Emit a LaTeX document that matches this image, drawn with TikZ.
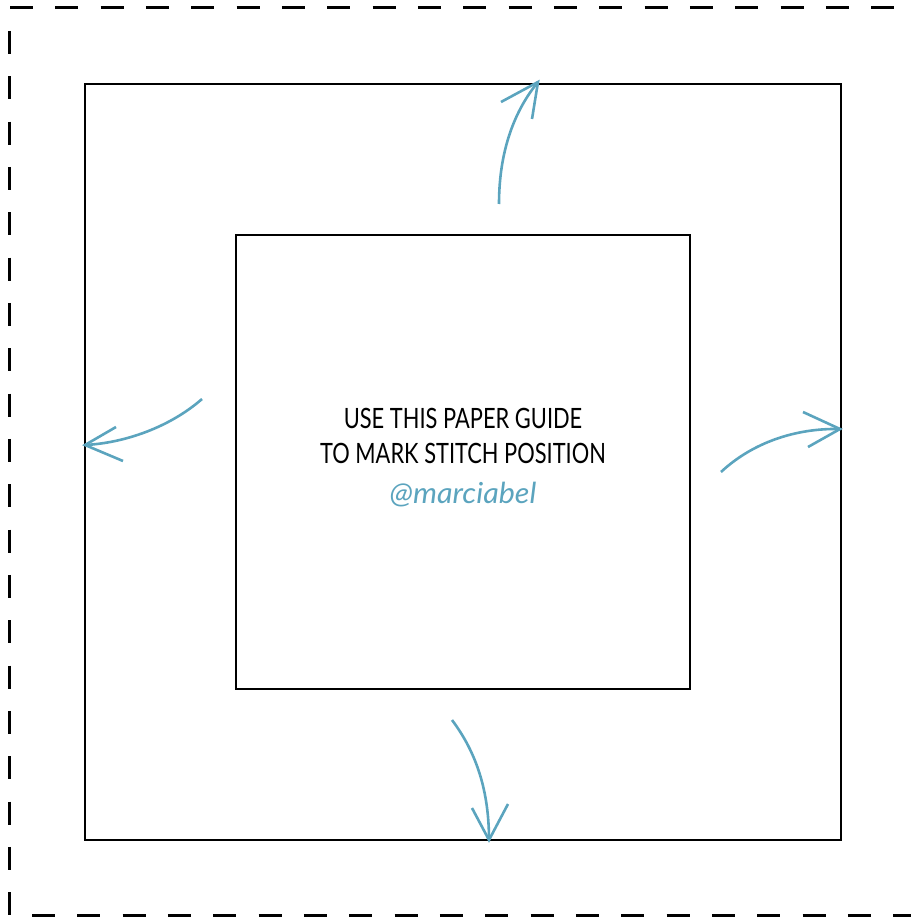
\documentclass[tikz,border=0pt]{standalone}
\usepackage{fontspec}
\setmainfont{Lato}[FakeStretch=0.78]
\newfontfamily\handfont{Lato}[FakeStretch=1.05]
\definecolor{teal1}{RGB}{91,164,190}
\begin{document}
\begin{tikzpicture}[x=1pt,y=-1pt,
  frame/.style={line width=2.8pt,black},
  cutline/.style={line width=3pt,black,dash pattern=on 23pt off 22.33pt},
  curvearrow/.style={line width=2.6pt,teal1},
  guidetext/.style={font=\fontsize{28}{35}\selectfont,text=black,align=center,inner sep=0pt}]
\useasboundingbox (0,0) rectangle (911,917);
% dashed cutting border
\coordinate (tl) at (10,8);
\coordinate (tr) at (911,8);
\coordinate (lt) at (9,31);
\coordinate (lb) at (9,917);
\coordinate (bl) at (32,915);
\coordinate (br) at (911,915);
\draw[cutline] (tl) -- (tr);
\draw[cutline] (lt) -- (lb);
\draw[cutline] (bl) -- (br);
% squares
\node[frame,draw,minimum width=756pt,minimum height=756pt,inner sep=0pt] (outer) at (463,462) {};
\node[frame,draw,minimum width=454pt,minimum height=454pt,inner sep=0pt] (inner) at (463,462) {};
% text
\node[guidetext,anchor=base] (l1) at (463,428) {USE THIS PAPER GUIDE};
\node[guidetext,anchor=base] (l2) at (463,463) {TO MARK STITCH POSITION};
\node[font=\handfont\itshape\fontsize{29}{32}\selectfont,text=teal1,anchor=base,inner sep=0pt] (tag) at (463,503) {@marciabel};
% arrows: top
\coordinate (ts) at (499,204);
\coordinate (tt) at (538,82);
\coordinate (ta) at (501,102);
\coordinate (tb) at (532,119);
\draw[curvearrow] (ts) .. controls (499,150) and (515,110) .. (tt);
\draw[curvearrow] (ta) -- (tt) -- (tb);
% left
\coordinate (ls) at (202,399);
\coordinate (lt2) at (85,445);
\coordinate (la) at (116,427);
\coordinate (lb2) at (123,461);
\draw[curvearrow] (ls) .. controls (170,427) and (125,443) .. (lt2);
\draw[curvearrow] (la) -- (lt2) -- (lb2);
% right
\coordinate (rs) at (721,472);
\coordinate (rt) at (840,429);
\coordinate (ra) at (803,412);
\coordinate (rb) at (808,447);
\draw[curvearrow] (rs) .. controls (752,443) and (795,428) .. (rt);
\draw[curvearrow] (ra) -- (rt) -- (rb);
% bottom
\coordinate (bs) at (452,720);
\coordinate (bt) at (489,840);
\coordinate (ba) at (472,808);
\coordinate (bb) at (508,804);
\draw[curvearrow] (bs) .. controls (476,752) and (489,790) .. (bt);
\draw[curvearrow] (ba) -- (bt) -- (bb);
\end{tikzpicture}
\end{document}
